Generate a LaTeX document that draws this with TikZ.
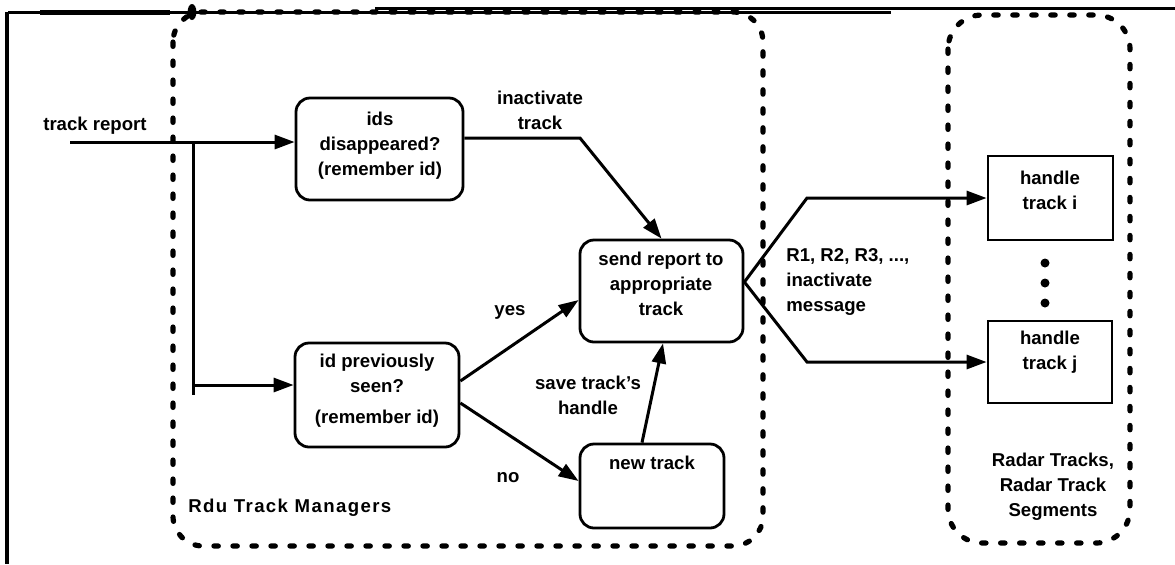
\documentclass[tikz,border=0pt]{standalone}
\usepackage{fontspec}
\setmainfont{Liberation Sans}
\usetikzlibrary{arrows.meta,calc}
\begin{document}
\begin{tikzpicture}[x=0.5pt,y=-0.5pt,
  rbox/.style={draw, line width=1.4pt, rounded corners=7pt, inner sep=0pt},
  sbox/.style={draw, line width=1.4pt, inner sep=0pt},
  txt/.style={font=\bfseries\fontsize{9.3}{12.5}\selectfont, align=center, inner sep=0pt},
  conn/.style={line width=1.5pt},
  arr/.style={line width=1.5pt, -{Triangle[length=10pt,width=7pt]}},
  group/.style={line width=2.6pt, line cap=round, dash pattern=on 2.2pt off 7.3pt},
  dotnode/.style={circle, fill, inner sep=0pt, minimum size=4.5pt}]
\useasboundingbox (0,0) rectangle (1175,564);

% frame lines at top and left
\draw[line width=1.5pt] (8,12.6) -- (891,12.6);
\draw[line width=1.5pt] (375,8) -- (1175,8);
\draw[line width=2.2pt] (40,12.6) -- (170,12.6);
\draw[line width=1.8pt] (7,12) -- (7,564);
\fill (192,12) ellipse (2.2pt and 4pt);

% dashed group boxes
\draw[group, rounded corners=15pt] (173,12) rectangle (763,546);
\draw[group, rounded corners=17pt] (948,15) rectangle (1130,543);

% boxes
\node[rbox, minimum width=83.5pt, minimum height=51pt] (ids) at (379.5,149) {};
\node[rbox, minimum width=82pt, minimum height=52pt] (idp) at (377,395) {};
\node[rbox, minimum width=81.5pt, minimum height=51pt] (send) at (661.5,291) {};
\node[rbox, minimum width=72pt, minimum height=42pt] (new) at (652,486) {};
\node[sbox, minimum width=62.5pt, minimum height=42pt] (hi) at (1050.5,198) {};
\node[sbox, minimum width=62pt, minimum height=41pt] (hj) at (1050,362) {};

% box texts
\node[txt] (idsT) at (380,146) {ids\\disappeared?\\(remember id)};
\node[txt] (idpT) at (377,391) {id previously\\seen?\\[3pt](remember id)};
\node[txt] (sendT) at (661,284) {send report to\\appropriate\\track};
\node[txt] (newT) at (652,463) {new track};
\node[txt] (hiT) at (1050,190) {handle\\track i};
\node[txt] (hjT) at (1050,352) {handle\\track j};

% dots
\node[dotnode] (d1) at (1045,263) {};
\node[dotnode] (d2) at (1045,283) {};
\node[dotnode] (d3) at (1045,303) {};

% labels
\node[txt] (trL) at (95,126) {track report};
\node[txt] (inL) at (540,110) {inactivate\\track};
\node[txt] (yesL) at (510,312) {yes};
\node[txt] (noL) at (508,478) {no};
\node[txt] (saveL) at (588,395) {save track's\\handle};
\node[txt, align=left, anchor=west] (rL) at (786,282) {R1, R2, R3, ...,\\inactivate\\message};
\node[txt, anchor=west, font=\bfseries\fontsize{9.3}{12.5}\selectfont\addfontfeatures{LetterSpace=7.5}] (mgrL) at (188,508) {Rdu Track Managers};
\node[txt] (radL) at (1053,487) {Radar Tracks,\\Radar Track\\Segments};

% connectors
\coordinate (trs) at (70,142);
\coordinate (br) at (193,142);
\coordinate (brb) at (193,385);
\coordinate (brend) at (193,395);
\coordinate (k1) at (580,138);
\coordinate (up) at (807,198);
\coordinate (dn) at (807,362);

\draw[arr] (trs) -- (ids.west |- trs);
\draw[conn] (br) -- (brend);
\draw[arr] (brb) -- (idp.west |- brb);
\draw[arr] (ids.east |- k1) -- (k1) -- (send.north);
\draw[arr] ([yshift=7pt]idp.east) -- ([yshift=-4.5pt]send.west);
\draw[arr] ([yshift=-4pt]idp.east) -- ([yshift=2.5pt]new.west);
\draw[arr] ([xshift=-5pt]new.north) -- ([xshift=0.75pt]send.south);
\draw[arr] ([yshift=4.5pt]send.east) -- (up) -- (hi.west);
\draw[arr] ([yshift=4.5pt]send.east) -- (dn) -- (hj.west);
\end{tikzpicture}
\end{document}
